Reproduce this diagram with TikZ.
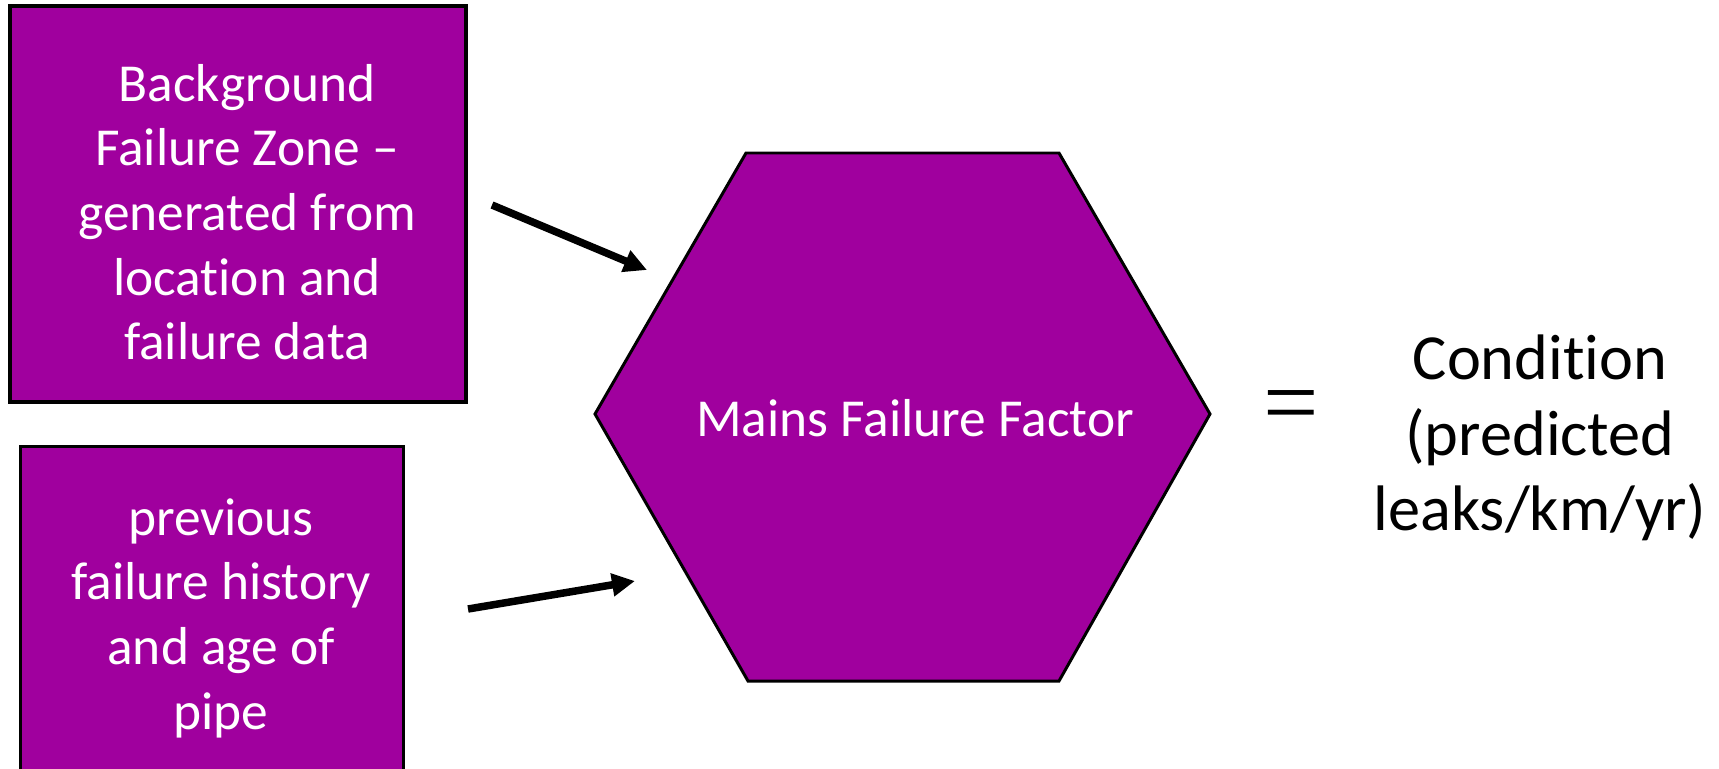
\documentclass[tikz,border=0pt]{standalone}
\usepackage{fontspec}
\setmainfont{Carlito}[Ligatures=NoCommon]
\newfontfamily\eqfont{Liberation Serif}
\usetikzlibrary{positioning, arrows.meta, calc}
\definecolor{mainspurple}{RGB}{160,0,158}

\begin{document}
\begin{tikzpicture}[x=0.02cm, y=-0.02cm,
  inbox/.style={draw, line width=1.8pt, fill=mainspurple, inner sep=0pt},
  boxtext/.style={text=white, align=center, font=\fontsize{30.4}{36.8}\selectfont},
  feed/.style={-{Triangle[length=0.46cm, width=0.44cm]}, line width=0.15cm}]
\useasboundingbox (0,0) rectangle (1719,768);

% Inputs
\node[inbox, minimum width=9.12cm, minimum height=7.92cm] (bfz) at (238,204) {};
\node[boxtext] (bfztext) at ($(bfz.center)+(9,8)$)
  {Background\\Failure Zone --\\generated from\\location and\\failure data};
\node[inbox, minimum width=7.66cm, minimum height=6.86cm] (hist) at (212,618) {};
\node[boxtext] (histtext) at ($(hist.center)+(9,0)$)
  {previous\\failure history\\and age of\\pipe};

% Mains failure factor
\draw[line width=1.7pt, fill=mainspurple] (595,414) -- (746,153) -- (1059,153)
  -- (1210,414) -- (1059,681) -- (748,681) -- cycle;
\node[boxtext] (mff) at (915,418) {Mains Failure Factor};

% Arrows
\coordinate (bfzout) at (492,205);
\coordinate (mffin1) at (647,270);
\coordinate (histout) at (468,609);
\coordinate (mffin2) at (635,581);
\draw[feed] (bfzout) -- (mffin1);
\draw[feed] (histout) -- (mffin2);

% Result
\node[font=\eqfont\fontsize{56}{56}\selectfont] (eq) at (1291,413) {=};
\node[align=center, font=\fontsize{36.6}{43}\selectfont] (cond) at (1540,438)
  {Condition\\(predicted\\leaks/km/yr)};
\end{tikzpicture}
\end{document}
